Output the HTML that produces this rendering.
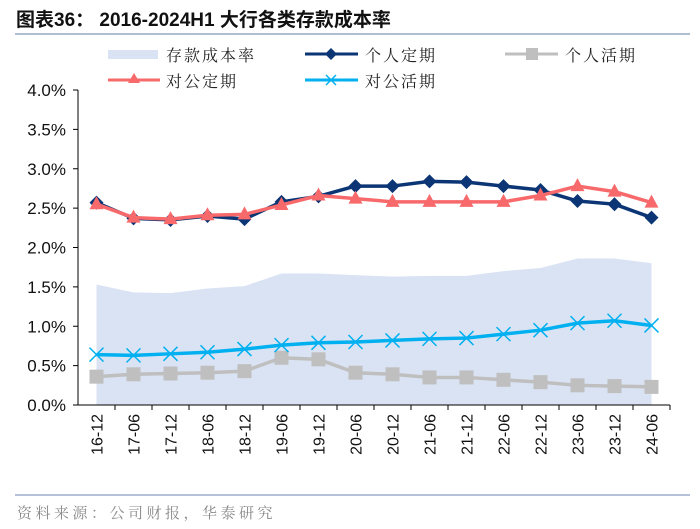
<!DOCTYPE html>
<html><head><meta charset="utf-8">
<style>
body{margin:0;background:#fff;}
svg{display:block;font-family:"Liberation Sans","Noto Sans CJK SC",sans-serif;}
.serif{font-family:"Liberation Serif","Noto Serif CJK SC",serif;}
</style></head>
<body>
<svg id="chart" width="700" height="529" viewBox="0 0 700 529">
<text x="16" y="26" font-size="19" font-weight="bold" fill="#111">图表36：  2016-2024H1 大行各类存款成本率</text>
<line x1="15" y1="34" x2="690" y2="34" stroke="#8096b8" stroke-width="1.2"/>
<g id="legend" class="serif">
<g><rect x="108" y="50" width="50" height="9" fill="#dae3f3"/><text x="166" y="61" font-size="16" letter-spacing="2" fill="#222">存款成本率</text></g>
<g><line x1="305" y1="54" x2="358" y2="54" stroke="#0b3574" stroke-width="3"/><path d="M331,48 L337,54 L331,60 L325,54Z" fill="#0b3574"/><text x="365" y="61" font-size="16" letter-spacing="2" fill="#222">个人定期</text></g>
<g><line x1="505" y1="54" x2="558" y2="54" stroke="#bfbfbf" stroke-width="3"/><rect x="526" y="48" width="12" height="12" fill="#bfbfbf"/><text x="565" y="61" font-size="16" letter-spacing="2" fill="#222">个人活期</text></g>
<g><line x1="108" y1="80" x2="160" y2="80" stroke="#f8696b" stroke-width="3"/><path d="M134,73 L140,83 L128,83Z" fill="#f8696b"/><text x="166" y="87" font-size="16" letter-spacing="2" fill="#222">对公定期</text></g>
<g><line x1="305" y1="80" x2="358" y2="80" stroke="#00b0f0" stroke-width="3"/><path d="M326,75 L336,85 M336,75 L326,85" stroke="#00b0f0" stroke-width="1.5"/><text x="365" y="87" font-size="16" letter-spacing="2" fill="#222">对公活期</text></g>
</g>
<g id="plot"></g>
<line x1="15" y1="495" x2="690" y2="495" stroke="#6d86b4" stroke-width="1"/>
<text x="17" y="518" class="serif" font-size="15" letter-spacing="3.5" fill="#888">资料来源：公司财报，华泰研究</text>
</svg>
<script>
const categories=["16-12","17-06","17-12","18-06","18-12","19-06","19-12","20-06","20-12","21-06","21-12","22-06","22-12","23-06","23-12","24-06"];
const depositCost=[1.53,1.43,1.42,1.48,1.51,1.67,1.67,1.65,1.63,1.64,1.64,1.70,1.74,1.86,1.86,1.80];
const personalFixed=[2.57,2.37,2.35,2.40,2.36,2.58,2.65,2.78,2.78,2.84,2.83,2.78,2.73,2.59,2.55,2.38];
const personalDemand=[0.36,0.39,0.40,0.41,0.43,0.60,0.58,0.41,0.39,0.35,0.35,0.32,0.29,0.25,0.24,0.23];
const corporateFixed=[2.55,2.38,2.36,2.41,2.42,2.54,2.66,2.62,2.58,2.58,2.58,2.58,2.66,2.78,2.71,2.57];
const corporateDemand=[0.64,0.63,0.65,0.67,0.71,0.76,0.79,0.80,0.82,0.84,0.85,0.90,0.95,1.04,1.07,1.01];
const yTicks=[0,0.5,1.0,1.5,2.0,2.5,3.0,3.5,4.0];

const NS="http://www.w3.org/2000/svg";
const g=document.getElementById('plot');
const X0=78,X1=670,Y0=405,Y1=90,YMAX=4.0;
const step=(X1-X0)/categories.length;
const xs=i=>X0+step*(i+0.5);
const ys=v=>Y0-(v/YMAX)*(Y0-Y1);
function mk(tag,attrs){const e=document.createElementNS(NS,tag);for(const k in attrs)e.setAttribute(k,attrs[k]);g.appendChild(e);return e;}

let d=`M${xs(0)},${Y0}`;
depositCost.forEach((v,i)=>{d+=` L${xs(i)},${ys(v)}`;});
d+=` L${xs(depositCost.length-1)},${Y0}Z`;
const area=mk('path',{d:d,fill:'#dae3f3'});



const ya=mk('line',{x1:X0,y1:Y1,x2:X0,y2:Y0,stroke:'#000','stroke-width':1});


const xa=mk('line',{x1:X0-5,y1:Y0,x2:X1,y2:Y0,stroke:'#000','stroke-width':1});


yTicks.forEach(v=>{
  const y=ys(v);
  const t=mk('line',{x1:X0-5,y1:y,x2:X0,y2:y,stroke:'#000'});
  
  
  const l=mk('text',{x:X0-12,y:y+6,'font-size':17,'text-anchor':'end',fill:'#111'});
  l.textContent=v.toFixed(1)+'%';
  
  
});
categories.forEach((c,i)=>{
  const tx=X0+step*(i+1);
  const t=mk('line',{x1:tx,y1:Y0,x2:tx,y2:Y0+5,stroke:'#000'});
  
  
  const l=mk('text',{x:0,y:0,'font-size':16,'text-anchor':'end',fill:'#111',transform:`translate(${xs(i)+6},${Y0+9}) rotate(-90)`});
  l.textContent=c;
  
  
});

function line(vals,color,name,marker){
  const pts=vals.map((v,i)=>`${xs(i)},${ys(v)}`).join(' ');
  const p=mk('polyline',{points:pts,fill:'none',stroke:color,'stroke-width':3.5,'stroke-linejoin':'round'});
  
  
  vals.forEach((v,i)=>{
    const x=xs(i),y=ys(v);let m;
    if(marker==='diamond')m=mk('path',{d:`M${x},${y-7} L${x+7},${y} L${x},${y+7} L${x-7},${y}Z`,fill:color});
    else if(marker==='square')m=mk('rect',{x:x-7,y:y-7,width:14,height:14,fill:color});
    else if(marker==='triangle')m=mk('path',{d:`M${x},${y-8} L${x+7},${y+5} L${x-7},${y+5}Z`,fill:color});
    else m=mk('path',{d:`M${x-7},${y-7} L${x+7},${y+7} M${x+7},${y-7} L${x-7},${y+7}`,stroke:color,'stroke-width':1.5});
    
    
  });
}
line(personalDemand,'#bfbfbf','personal-demand','square');
line(corporateDemand,'#00b0f0','corporate-demand','x');
line(personalFixed,'#0b3574','personal-fixed','diamond');
line(corporateFixed,'#f8696b','corporate-fixed','triangle');
</script>
</body></html>
